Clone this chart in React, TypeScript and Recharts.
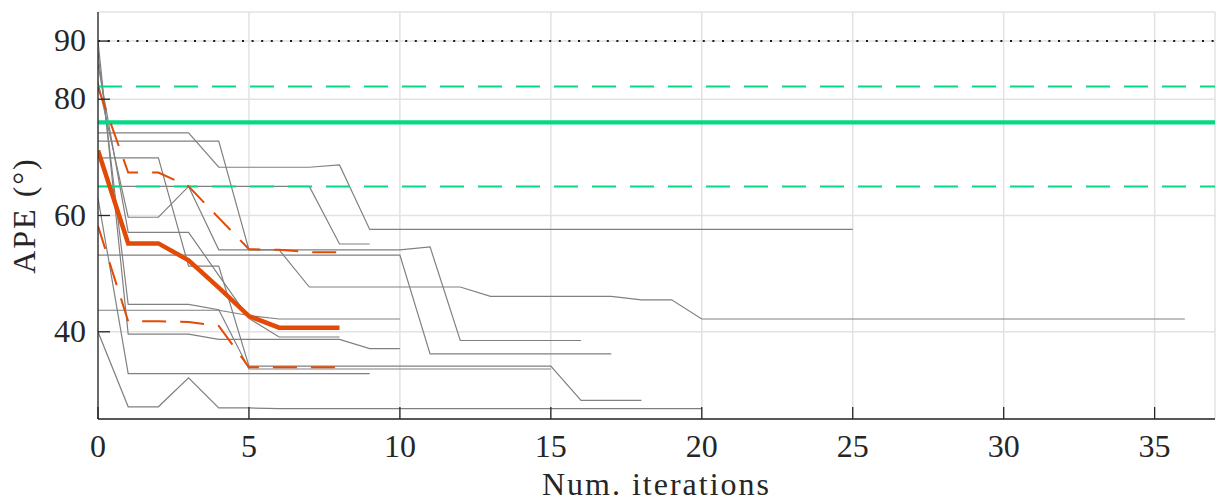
import { CartesianGrid, Line, LineChart, ReferenceLine, XAxis, YAxis } from "recharts";

// APE per iteration, one array per run (index = iteration)
const runA = [83, 59.7, 59.7, 65, 54.1, 54.1, 54.1, 47.7, 47.7, 47.7, 47.7, 47.7, 47.7, 46.1, 46.1, 46.1, 46.1, 46.1, 45.5, 45.5, 42.2, 42.2, 42.2, 42.2, 42.2, 42.2, 42.2, 42.2, 42.2, 42.2, 42.2, 42.2, 42.2, 42.2, 42.2, 42.2, 42.2];
const runB = [74.2, 74.2, 74.2, 74.2, 68.3, 68.3, 68.3, 68.3, 68.7, 57.6, 57.6, 57.6, 57.6, 57.6, 57.6, 57.6, 57.6, 57.6, 57.6, 57.6, 57.6, 57.6, 57.6, 57.6, 57.6, 57.6];
const runC = [72.8, 72.8, 72.8, 72.8, 72.8, 54.1, 54.1, 54.1, 54.1, 54.1, 54.1, 54.6, 38.5, 38.5, 38.5, 38.5, 38.5];
const runD = [40, 27.1, 27.1, 32.1, 26.9, 26.9, 26.8, 26.8, 26.8, 26.8, 26.8, 26.8, 26.8, 26.8, 26.8, 26.8, 26.8, 26.8, 26.8, 26.8, 26.8];
const runE = [69.9, 69.9, 69.9, 51.3, 51.3, 34.1, 34.1, 34.1, 34.1, 34.1, 34.1, 34.1, 34.1, 34.1, 34.1, 34.1, 28.2, 28.2, 28.2];
const runF = [88, 44.7, 44.7, 44.7, 43.8, 33.6, 33.6, 33.6, 33.6, 33.6, 33.6, 33.6, 33.6, 33.6, 33.6, 33.6];
const runG = [53.2, 53.2, 53.2, 53.2, 53.2, 53.2, 53.2, 53.2, 53.2, 53.2, 53.2, 36.2, 36.2, 36.2, 36.2, 36.2, 36.2, 36.2];
const runH = [43.7, 43.7, 43.7, 43.7, 43.7, 42.8, 42.2, 42.2, 42.2, 42.2, 42.2];
const runI = [90, 39.6, 39.6, 39.6, 38.7, 38.7, 38.7, 38.7, 38.7, 37.1, 37.1];
const runJ = [63, 32.8, 32.8, 32.8, 32.8, 32.8, 32.8, 32.8, 32.8, 32.8];
const runK = [65, 65, 65, 65, 65, 65, 65, 65, 55.1, 55.1];
const runL = [86, 57.1, 57.1, 57.1, 49.7, 42.3, 39.1, 39.1, 39.1];

const grayRuns = [runA, runB, runC, runD, runE, runF, runG, runH, runI, runJ, runK, runL];

const medianRun = [71.2, 55.2, 55.2, 52.3, 47.6, 42.7, 40.7, 40.7, 40.7];
const upperRun = [82, 67.4, 67.4, 65, 59.6, 54.2, 54.1, 53.7, 53.7];
const lowerRun = [58.2, 41.8, 41.8, 41.7, 41.0, 33.9, 33.9, 33.9, 33.9];

const baselineMean = 76;
const baselineUpper = 82.2;
const baselineLower = 65;
const initialApe = 90;

const xTicks = [0, 5, 10, 15, 20, 25, 30, 35];
const yTicks = [40, 60, 80, 90];

const FONT = '"Liberation Serif", "Times New Roman", serif';
const INK = "#262626";
const GREEN = "#05d986";
const ORANGE = "#e34a05";

const toPoints = (values: number[]) => values.map((ape, iter) => ({ iter, ape }));

const XTick = ({ x, y, payload }: any) => (
  <g>
    <line x1={x} x2={x} y1={y} y2={y - 12} stroke={INK} strokeWidth={1.3} />
    <text x={x} y={y + 38} textAnchor="middle" fontFamily={FONT} fontSize={32} fill={INK}>
      {payload.value}
    </text>
  </g>
);

const YTick = ({ x, y, payload }: any) => (
  <g>
    <line x1={x} x2={x + 12} y1={y} y2={y} stroke={INK} strokeWidth={1.3} />
    <text x={x - 12} y={y + 10} textAnchor="end" fontFamily={FONT} fontSize={32} fill={INK}>
      {payload.value}
    </text>
  </g>
);

export default function App() {
  return (
    <div style={{ width: 1217, height: 504 }}>
      <style>{"body{margin:0}"}</style>
      <LineChart width={1217} height={504} margin={{ top: 12, right: 2, bottom: 0, left: 0 }}>
        <CartesianGrid stroke="#e2e2e2" strokeWidth={1.5} />
        <XAxis
          dataKey="iter"
          type="number"
          domain={[0, 37]}
          ticks={xTicks}
          interval={0}
          allowDataOverflow
          height={85}
          tickSize={0}
          tickMargin={0}
          tickLine={false}
          tick={<XTick />}
          axisLine={{ stroke: INK, strokeWidth: 1.3 }}
          label={{
            value: "Num. iterations",
            position: "center",
            dy: 22,
            fontFamily: FONT,
            fontSize: 32,
            fill: INK,
            letterSpacing: 2,
          }}
        />
        <YAxis
          type="number"
          domain={[25, 95]}
          ticks={yTicks}
          interval={0}
          allowDataOverflow
          width={98}
          tickSize={0}
          tickMargin={0}
          tickLine={false}
          tick={<YTick />}
          axisLine={{ stroke: INK, strokeWidth: 1.3 }}
          label={{
            value: "APE (°)",
            angle: -90,
            position: "center",
            dx: -25,
            fontFamily: FONT,
            fontSize: 32,
            fill: INK,
            letterSpacing: 2,
          }}
        />
        {grayRuns.map((run, i) => (
          <Line
            key={`run-${i}`}
            data={toPoints(run)}
            dataKey="ape"
            stroke="#808080"
            strokeWidth={1.2}
            dot={false}
            isAnimationActive={false}
          />
        ))}
        <ReferenceLine y={initialApe} stroke="#1a1a1a" strokeWidth={2} strokeDasharray="2 7.6" />
        <ReferenceLine y={baselineUpper} stroke={GREEN} strokeWidth={2} strokeDasharray="24 14" />
        <ReferenceLine y={baselineMean} stroke={GREEN} strokeWidth={4.2} />
        <ReferenceLine y={baselineLower} stroke={GREEN} strokeWidth={2} strokeDasharray="24 14" />
        <Line
          data={toPoints(upperRun)}
          dataKey="ape"
          stroke={ORANGE}
          strokeWidth={2}
          strokeDasharray="24 14"
          dot={false}
          isAnimationActive={false}
        />
        <Line
          data={toPoints(lowerRun)}
          dataKey="ape"
          stroke={ORANGE}
          strokeWidth={2}
          strokeDasharray="24 14"
          dot={false}
          isAnimationActive={false}
        />
        <Line
          data={toPoints(medianRun)}
          dataKey="ape"
          stroke={ORANGE}
          strokeWidth={4.5}
          dot={false}
          isAnimationActive={false}
        />
      </LineChart>
    </div>
  );
}
